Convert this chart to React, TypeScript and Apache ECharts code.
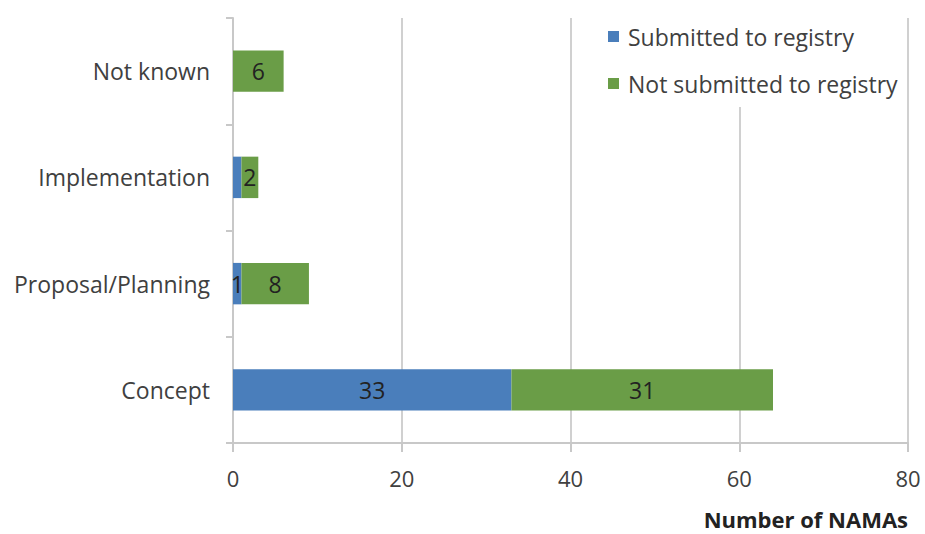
import React, { useEffect, useRef } from "react";
import * as echarts from "echarts";

const categories = ["Concept", "Proposal/Planning", "Implementation", "Not known"];
const submitted = [33, 1, 1, 0];
const notSubmitted = [31, 8, 2, 6];
const submittedLabelShown = [true, true, false, false];
const seriesNames = ["Submitted to registry", "Not submitted to registry"];
const xTicks = { min: 0, max: 80, interval: 20 };
const axisTitle = "Number of NAMAs";

const FONT = "'Open Sans', sans-serif";
const TEXT = "#404040";

export default function App() {
  const ref = useRef<HTMLDivElement>(null);
  useEffect(() => {
    if (!ref.current) return;
    const chart = echarts.init(ref.current, null, { renderer: "svg" });
    const labelStyle = {
      show: true,
      position: "inside",
      color: "#222",
      fontSize: 23,
      fontFamily: FONT,
    };
    chart.setOption({
      animation: false,
      backgroundColor: "#fff",
      grid: { left: 233, right: 17, top: 18, bottom: 91, containLabel: false },
      legend: {
        orient: "vertical",
        left: 600,
        top: 15,
        padding: [10, 8, 12, 8],
        backgroundColor: "#fff",
        itemWidth: 11,
        itemHeight: 11,
        itemGap: 24,
        icon: "rect",
        data: seriesNames,
        textStyle: { fontSize: 23, lineHeight: 23, color: TEXT, fontFamily: FONT, padding: [0, 0, 0, 4] },
        selectedMode: false,
      },
      xAxis: {
        type: "value",
        min: xTicks.min,
        max: xTicks.max,
        interval: xTicks.interval,
        name: axisTitle,
        nameLocation: "end",
        nameGap: 0,
        nameTextStyle: {
          fontSize: 22,
          fontWeight: "bold",
          color: "#222",
          fontFamily: FONT,
          align: "right",
          verticalAlign: "top",
          padding: [65, 0, 0, 0],
        },
        axisLine: { show: true, lineStyle: { color: "#c8c8c8", width: 2 } },
        axisTick: { show: true, length: 9, lineStyle: { color: "#c8c8c8", width: 2 } },
        axisLabel: { fontSize: 22, color: TEXT, fontFamily: FONT, margin: 24 },
        splitLine: { show: true, lineStyle: { color: "#d0d0d0", width: 2 } },
      },
      yAxis: {
        type: "category",
        data: categories,
        axisLine: { show: true, lineStyle: { color: "#c8c8c8", width: 2 } },
        axisTick: { show: true, length: 7, lineStyle: { color: "#c8c8c8", width: 2 } },
        axisLabel: { fontSize: 23, color: TEXT, fontFamily: FONT, margin: 23 },
        splitLine: { show: false },
      },
      series: [
        {
          name: seriesNames[0],
          type: "bar",
          stack: "total",
          barWidth: "39%",
          itemStyle: { color: "#4A7EBB" },
          label: labelStyle,
          data: submitted.map((v, i) => ({
            value: v,
            label: { show: submittedLabelShown[i] && v > 0 },
          })),
        },
        {
          name: seriesNames[1],
          type: "bar",
          stack: "total",
          barWidth: "39%",
          itemStyle: { color: "#6A9D47" },
          label: labelStyle,
          data: notSubmitted,
        },
      ],
    });
    return () => chart.dispose();
  }, []);
  return (
    <div
      ref={ref}
      style={{ position: "absolute", left: 0, top: 0, width: 925, height: 534 }}
    />
  );
}
